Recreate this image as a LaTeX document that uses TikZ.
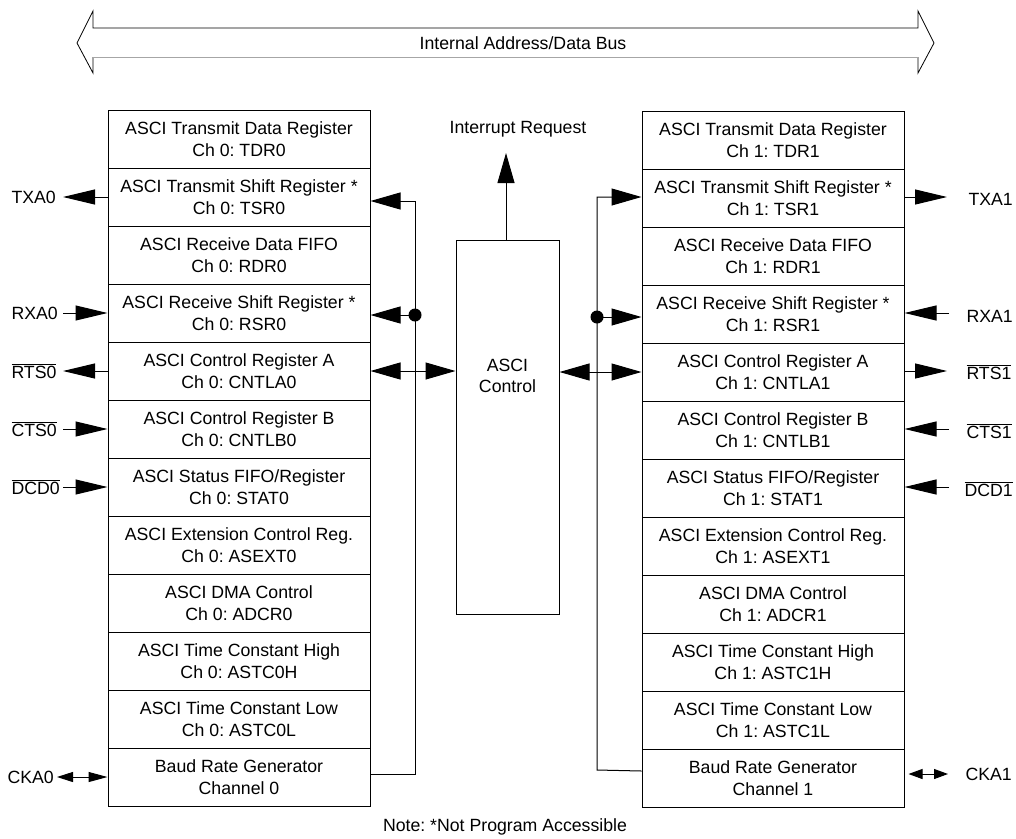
\documentclass[tikz,border=0pt]{standalone}
\usepackage{fontspec}
\setmainfont{Liberation Sans}
\usetikzlibrary{arrows.meta}
\newcommand{\ovl}[1]{$\overline{\hbox{#1}}$}
\frenchspacing
\begin{document}
\begin{tikzpicture}[x=1pt,y=-1pt,line width=1pt,
  every node/.style={font=\fontsize{17.7}{21.5}\selectfont},
  regrow/.style={draw, minimum width=262pt, minimum height=58pt, align=center, inner sep=0pt},
  lbl/.style={inner sep=0pt},
  big/.style={-{Triangle[length=30pt,width=17pt]}},
  bigboth/.style={{Triangle[length=30pt,width=17pt]}-{Triangle[length=30pt,width=17pt]}},
  sig/.style={-{Triangle[length=32pt,width=15pt]}},
  smallboth/.style={{Triangle[length=16pt,width=10pt]}-{Triangle[length=19pt,width=10pt]}},
  tinyboth/.style={{Triangle[length=14pt,width=10pt]}-{Triangle[length=14pt,width=10pt]}},
  dotc/.style={circle, fill, inner sep=0pt, minimum size=13pt}]
\useasboundingbox (0,0) rectangle (1016,838);

% internal bus
\draw[line width=0.8pt] (93,57) -- (93,73) -- (77,43) -- (93,11) -- (93,28) -- (918,28) -- (918,11) -- (934,43) -- (918,73) -- (918,57);
\draw[line width=1pt, gray!70] (93,57) -- (918,57);
\node[lbl] (bus) at (523,43) {Internal Address/Data Bus};

% left register stack
\foreach \i/\a/\b in {1/ASCI Transmit Data Register/Ch 0: TDR0,
  2/ASCI Transmit Shift Register */Ch 0: TSR0,
  3/ASCI Receive Data FIFO/Ch 0: RDR0,
  4/ASCI Receive Shift Register */Ch 0: RSR0,
  5/ASCI Control Register A/Ch 0: CNTLA0,
  6/ASCI Control Register B/Ch 0: CNTLB0,
  7/{ASCI Status FIFO/Register}/Ch 0: STAT0,
  8/ASCI Extension Control Reg./Ch 0: ASEXT0,
  9/ASCI DMA Control/Ch 0: ADCR0,
  10/ASCI Time Constant High/Ch 0: ASTC0H,
  11/ASCI Time Constant Low/Ch 0: ASTC0L,
  12/Baud Rate Generator/Channel 0}
  \node[regrow] (L\i) at (239,{110+58*(\i-0.5)}) {\a\\\b};

% right register stack
\foreach \i/\a/\b in {1/ASCI Transmit Data Register/Ch 1: TDR1,
  2/ASCI Transmit Shift Register */Ch 1: TSR1,
  3/ASCI Receive Data FIFO/Ch 1: RDR1,
  4/ASCI Receive Shift Register */Ch 1: RSR1,
  5/ASCI Control Register A/Ch 1: CNTLA1,
  6/ASCI Control Register B/Ch 1: CNTLB1,
  7/{ASCI Status FIFO/Register}/Ch 1: STAT1,
  8/ASCI Extension Control Reg./Ch 1: ASEXT1,
  9/ASCI DMA Control/Ch 1: ADCR1,
  10/ASCI Time Constant High/Ch 1: ASTC1H,
  11/ASCI Time Constant Low/Ch 1: ASTC1L,
  12/Baud Rate Generator/Channel 1}
  \node[regrow] (R\i) at (773,{111+58*(\i-0.5)}) {\a\\\b};

% ASCI control
\node[draw, minimum width=103pt, minimum height=374pt, inner sep=0pt] (ctl) at (507.5,427) {};
\node[lbl, align=center] (ctltxt) at (507.5,376) {ASCI\\Control};

% interrupt request
\coordinate (irq) at (506,153);
\node[lbl] (irqtxt) at (518,129) {Interrupt Request};
\draw[big] (irq |- ctl.north) -- (irq);

% left internal bus
\coordinate (lv) at (415,201);
\coordinate (lb) at (415,774);
\node[dotc] (ldot) at (415,315) {};
\draw[big] ([yshift=3pt]L12.east) -- (lb) -- (lv) -- (L2.east |- lv);
\draw[big] (ldot.center) -- (L4.east |- ldot);
\draw[bigboth] (L5.east) -- (ctl.west |- L5.east);

% right internal bus
\coordinate (rv) at (597,197);
\coordinate (rb) at (597,770);
\node[dotc] (rdot) at (597,317) {};
\draw[big] ([yshift=7pt]R12.west) -- (rb) -- (rv) -- (R2.west |- rv);
\draw[big] (rdot.center) -- (R4.west |- rdot);
\draw[bigboth] (ctl.east |- R5.west) -- (R5.west);

% left external signals
\coordinate (txa0) at (63,197);
\coordinate (rxa0) at (63,313);
\coordinate (rts0) at (63,371);
\coordinate (cts0) at (63,429);
\coordinate (dcd0) at (63,487);
\coordinate (cka0) at (57,777);
\draw[sig] (L2.west) -- (txa0);
\draw[sig] (rxa0) -- (L4.west);
\draw[sig] (L5.west) -- (rts0);
\draw[sig] (cts0) -- (L6.west);
\draw[sig] (dcd0) -- (L7.west);
\draw[smallboth] (cka0) -- (L12.west);
\node[lbl, anchor=west] (txa0l) at (11,197) {TXA0};
\node[lbl, anchor=west] (rxa0l) at (11,313) {RXA0};
\node[lbl, anchor=west] (rts0l) at (11,371) {\ovl{RTS0}};
\node[lbl, anchor=west] (cts0l) at (11,429) {\ovl{CTS0}};
\node[lbl, anchor=west] (dcd0l) at (11,487) {\ovl{DCD0}};
\node[lbl, anchor=west] (cka0l) at (7,777) {CKA0};

% right external signals
\coordinate (txa1) at (947,197);
\coordinate (rxa1) at (949,313);
\coordinate (rts1) at (947,371);
\coordinate (cts1) at (949,429);
\coordinate (dcd1) at (949,487);
\coordinate (cka1) at (948,774);
\draw[sig] (R2.east |- txa1) -- (txa1);
\draw[sig] (rxa1) -- (R4.east |- rxa1);
\draw[sig] (R5.east |- rts1) -- (rts1);
\draw[sig] (cts1) -- (R6.east |- cts1);
\draw[sig] (dcd1) -- (R7.east |- dcd1);
\draw[tinyboth] ([xshift=4pt]R12.east |- cka1) -- (cka1);
\node[lbl, anchor=west] (txa1l) at (968,199) {TXA1};
\node[lbl, anchor=west] (rxa1l) at (966,316) {RXA1};
\node[lbl, anchor=west] (rts1l) at (966,372) {\ovl{RTS1}};
\node[lbl, anchor=west] (cts1l) at (966,431) {\ovl{CTS1}};
\node[lbl, anchor=west] (dcd1l) at (964,489) {\ovl{DCD1}};
\node[lbl, anchor=west] (cka1l) at (965,774) {CKA1};

% note
\node[lbl] (note) at (505,827) {Note: *Not Program Accessible};
\end{tikzpicture}
\end{document}
